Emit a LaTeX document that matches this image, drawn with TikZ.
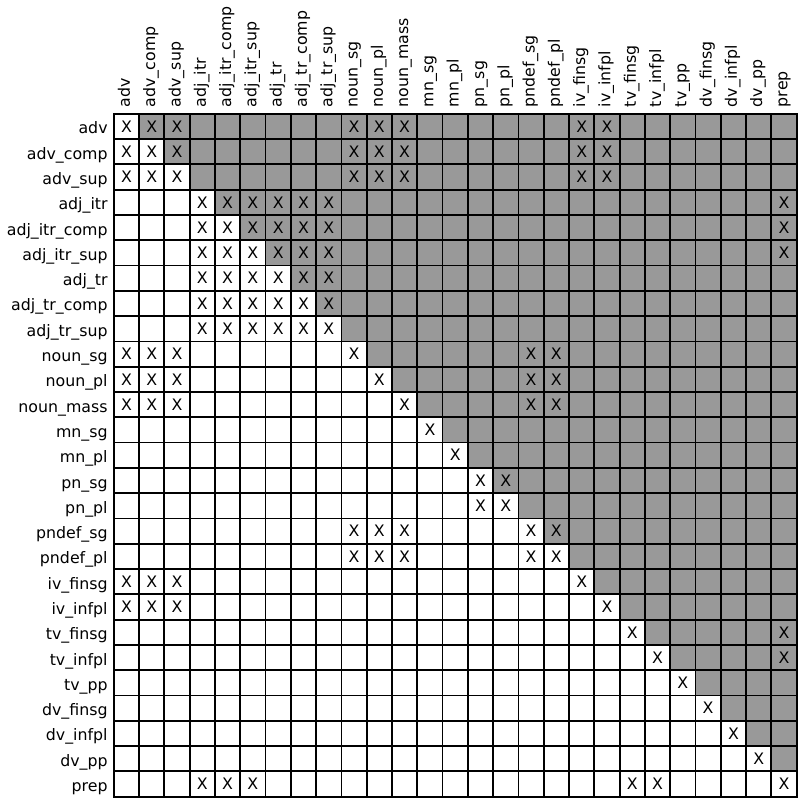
\documentclass[tikz,border=0pt]{standalone}
\usepackage{fontspec}
\setmainfont{DejaVu Sans}
\definecolor{cellgray}{RGB}{153,153,153}
\begin{document}
\begin{tikzpicture}[x=1pt,y=-1pt,
  font=\fontsize{15.8}{19}\selectfont,
  gridline/.style={line width=1.8pt,line cap=rect,black},
  rowlab/.style={anchor=base east,inner sep=0pt},
  collab/.style={anchor=base west,rotate=90,inner sep=0pt},
  xmark/.style={anchor=center,inner sep=0pt}]
\useasboundingbox (0,0) rectangle (800,800);
\def\gx{113.8}
\def\gy{113.8}
\def\cs{25.29}
% grey cells above the diagonal
\foreach \i in {1,...,26}{
  \fill[cellgray] ({\gx+\i*\cs},{\gy+(\i-1)*\cs}) rectangle ({\gx+27*\cs},{\gy+\i*\cs});
}
% grid
\foreach \k in {0,...,27}{
  \draw[gridline] ({\gx+\k*\cs},\gy) -- ({\gx+\k*\cs},{\gy+27*\cs});
  \draw[gridline] (\gx,{\gy+\k*\cs}) -- ({\gx+27*\cs},{\gy+\k*\cs});
}
% labels
\foreach \n [count=\k] in {adv,adv\_comp,adv\_sup,adj\_itr,adj\_itr\_comp,adj\_itr\_sup,adj\_tr,adj\_tr\_comp,adj\_tr\_sup,noun\_sg,noun\_pl,noun\_mass,mn\_sg,mn\_pl,pn\_sg,pn\_pl,pndef\_sg,pndef\_pl,iv\_finsg,iv\_infpl,tv\_finsg,tv\_infpl,tv\_pp,dv\_finsg,dv\_infpl,dv\_pp,prep}{
  \node[rowlab] (r\k) at (107.8,{\gy+(\k-0.5)*\cs+7.5}) {\n};
  \node[collab] (c\k) at ({\gx+(\k-0.5)*\cs+3.5},107.3) {\n};
}
% marks
\foreach \i/\j in {1/1,1/2,1/3,1/10,1/11,1/12,1/19,1/20,
  2/1,2/2,2/3,2/10,2/11,2/12,2/19,2/20,
  3/1,3/2,3/3,3/10,3/11,3/12,3/19,3/20,
  4/4,4/5,4/6,4/7,4/8,4/9,4/27,
  5/4,5/5,5/6,5/7,5/8,5/9,5/27,
  6/4,6/5,6/6,6/7,6/8,6/9,6/27,
  7/4,7/5,7/6,7/7,7/8,7/9,
  8/4,8/5,8/6,8/7,8/8,8/9,
  9/4,9/5,9/6,9/7,9/8,9/9,
  10/1,10/2,10/3,10/10,10/17,10/18,
  11/1,11/2,11/3,11/11,11/17,11/18,
  12/1,12/2,12/3,12/12,12/17,12/18,
  13/13,14/14,15/15,15/16,16/15,16/16,
  17/10,17/11,17/12,17/17,17/18,
  18/10,18/11,18/12,18/17,18/18,
  19/1,19/2,19/3,19/19,
  20/1,20/2,20/3,20/20,
  21/21,21/27,22/22,22/27,23/23,24/24,25/25,26/26,
  27/4,27/5,27/6,27/21,27/22,27/27}{
  \node[xmark] (x\i-\j) at ({\gx+(\j-0.5)*\cs},{\gy+(\i-0.5)*\cs}) {X};
}
\end{tikzpicture}
\end{document}
